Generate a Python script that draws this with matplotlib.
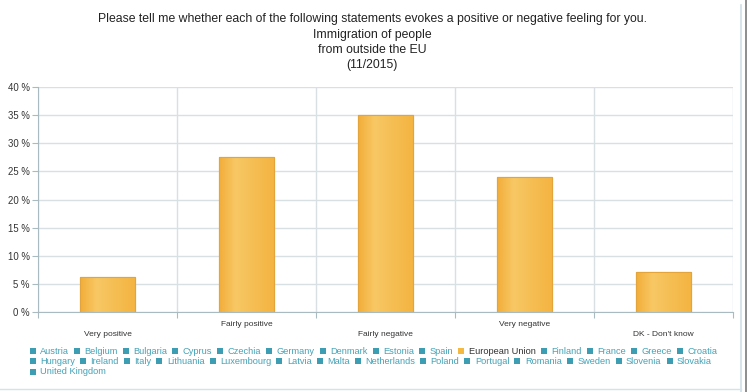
import matplotlib
matplotlib.use("Agg")
import matplotlib.pyplot as plt
import numpy as np
from matplotlib.colors import LinearSegmentedColormap
from matplotlib.patches import Rectangle
from matplotlib.lines import Line2D

plt.rcParams['font.family'] = ['Liberation Sans', 'DejaVu Sans']

title_lines = [
    "Please tell me whether each of the following statements evokes a positive or negative feeling for you.",
    "Immigration of people",
    "from outside the EU",
    "(11/2015)",
]
categories = ["Very positive", "Fairly positive", "Fairly negative", "Very negative", "DK - Don't know"]
values = [6.3, 27.5, 35.1, 24.0, 7.1]
yticks = [0, 5, 10, 15, 20, 25, 30, 35, 40]
ytick_labels = ["0 %", "5 %", "10 %", "15 %", "20 %", "25 %", "30 %", "35 %", "40 %"]
legend_rows = [
    ["Austria", "Belgium", "Bulgaria", "Cyprus", "Czechia", "Germany", "Denmark",
     "Estonia", "Spain", "European Union", "Finland", "France", "Greece", "Croatia"],
    ["Hungary", "Ireland", "Italy", "Lithuania", "Luxembourg", "Latvia", "Malta",
     "Netherlands", "Poland", "Portugal", "Romania", "Sweden", "Slovenia", "Slovakia"],
    ["United Kingdom"],
]
highlight = "European Union"

W, H = 752, 392
fig = plt.figure(figsize=(W / 100, H / 100), dpi=100)
fig.patch.set_facecolor("white")

ax = fig.add_axes([38 / W, 1 - 312 / H, (733 - 38) / W, (312 - 87) / H])
x = np.arange(len(categories))

grid_c = "#d9e0e3"
axis_c = "#a9bac1"
bars = ax.bar(x, values, width=0.4, color="#f5b942", edgecolor="#e3a43c",
              linewidth=0.8, zorder=3)

# horizontal shading across each bar
cmap = LinearSegmentedColormap.from_list(
    "barshade", [(0.0, "#f2ae3a"), (0.3, "#f8c865"), (0.45, "#f6c35c"),
                 (1.0, "#f4b441")])
grad = np.linspace(0, 1, 64).reshape(1, -1)
for b in bars:
    x0, y0 = b.get_x(), b.get_y()
    w, h = b.get_width(), b.get_height()
    im = ax.imshow(grad, cmap=cmap, extent=(x0, x0 + w, y0, y0 + h),
                   aspect="auto", zorder=3.5, interpolation="bilinear")
    im.set_clip_path(b)
    ax.add_patch(Rectangle((x0, y0), w, h, fill=False, edgecolor="#e3a43c",
                           linewidth=0.8, zorder=4))

ax.set_xlim(-0.5, len(categories) - 0.5)
ax.set_ylim(0, 40)
ax.set_yticks(yticks)
ax.set_yticklabels(ytick_labels, fontsize=6.9, color="#333333")
ax.set_xticks(np.arange(len(categories) + 1) - 0.5)
ax.set_xticklabels([])
ax.tick_params(axis="y", length=4, color=axis_c, pad=2)
ax.tick_params(axis="x", length=4, color=axis_c)

ax.grid(True, axis="both", color=grid_c, linewidth=1.0, zorder=0)
for s in ["top", "right"]:
    ax.spines[s].set_visible(False)
ax.spines["left"].set_color(axis_c)
ax.spines["bottom"].set_color(axis_c)

# staggered category labels
for i, c in enumerate(categories):
    off = -22 if i % 2 == 0 else -12
    ax.annotate(c, xy=(i, 0), xycoords=("data", "axes fraction"),
                xytext=(0, off), textcoords="offset pixels",
                ha="center", va="center", fontsize=6, color="#333333")

# title
title_y = [19, 35, 50, 65]
for line, yy in zip(title_lines, title_y):
    fig.text(372 / W, 1 - yy / H, line, ha="center", va="center",
             fontsize=8.85, color="#222222")

# flowing legend
renderer = fig.canvas.get_renderer()
teal_sq = "#3d9db2"
teal_txt = "#45a3b8"
row_y = [351, 361, 372]
for row, yy in zip(legend_rows, row_y):
    px = 29.5
    for name in row:
        is_hl = name == highlight
        sq = Rectangle((px / W, 1 - (yy + 3) / H), 6 / W, 6 / H,
                       transform=fig.transFigure,
                       facecolor="#f5b942" if is_hl else teal_sq,
                       edgecolor="none")
        fig.add_artist(sq)
        t = fig.text((px + 10.5) / W, 1 - yy / H, name, ha="left", va="center",
                     fontsize=6.65, color="#333333" if is_hl else teal_txt)
        bb = t.get_window_extent(renderer=renderer)
        px = bb.x1 + 5

# page frame
fig.add_artist(Line2D([741 / W, 741 / W], [0, 1 - 5 / H],
                      transform=fig.transFigure, color="#cfe0e6", linewidth=1.2))
fig.add_artist(Line2D([746 / W, 746 / W], [0, 1],
                      transform=fig.transFigure, color="#7a7a7a", linewidth=1.2))
fig.add_artist(Line2D([0, 741 / W], [1 - 389 / H, 1 - 389 / H],
                      transform=fig.transFigure, color="#d5e3e8", linewidth=1.0))

fig.savefig("out.png", dpi=100, facecolor="white")
